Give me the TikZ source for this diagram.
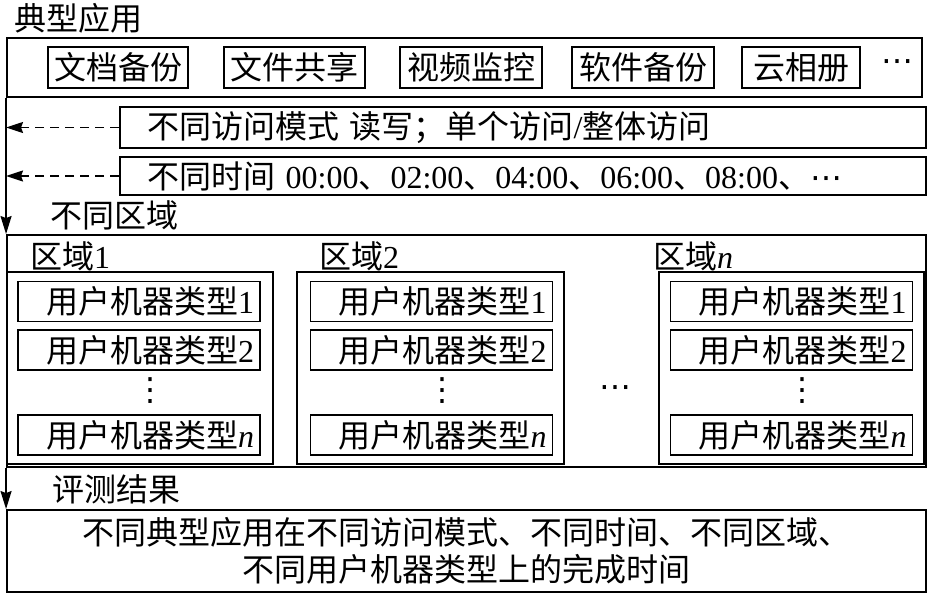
\documentclass[tikz,border=0pt]{standalone}
\usepackage{fontspec}
\setmainfont{Liberation Serif}
\newfontfamily\cjk{Noto Sans CJK SC}
\newfontfamily\dejavu{DejaVu Sans}
\usetikzlibrary{arrows.meta}
\newcommand\lat[1]{{\rmfamily #1}}
\newcommand\latn{{\rmfamily\itshape n}}
\begin{document}
\begin{tikzpicture}[x=1pt,y=-1pt,
  txt/.style={font=\cjk\fontsize{32}{37}\selectfont, inner sep=0pt},
  box/.style={draw, line width=1.9pt, inner sep=0pt, font=\cjk\fontsize{32}{37}\selectfont},
  ibox/.style={box, line width=1.5pt},
  mbox/.style={ibox, minimum height=40pt, text width=230pt, align=right, inner xsep=6pt},
  regbox/.style={ibox, minimum height=192pt},
  arr/.style={line width=1.6pt, -{Stealth[length=18pt,width=11pt,inset=2pt]}},
  darr/.style={line width=1.6pt, dash pattern=on 9pt off 6pt, -{Stealth[length=17pt,width=11pt,inset=2pt]}},
  dots/.style={font=\dejavu\fontsize{32}{34}\selectfont, inner sep=0pt}
]
\useasboundingbox (0,0) rectangle (928,594);

% typical applications
\node[txt] (title) at (78,18) {典型应用};
\node[box, minimum width=915pt, minimum height=59pt] (apps) at (464.5,67.5) {};
\node[ibox, minimum width=140pt, minimum height=41pt] (a1) at (118,67.5) {文档备份};
\node[ibox, minimum width=141pt, minimum height=41pt] (a2) at (294.5,67.5) {文件共享};
\node[ibox, minimum width=142pt, minimum height=41pt] (a3) at (471,67.5) {视频监控};
\node[ibox, minimum width=142pt, minimum height=41pt] (a4) at (643,67.5) {软件备份};
\node[ibox, minimum width=118pt, minimum height=41pt] (a5) at (801,67.5) {云相册};
\node[dots] (adots) at (897,66) {⋯};

% access mode / time
\node[box, minimum width=806pt, minimum height=41pt, text width=806pt, align=left] (mode) at (523,127.5)
  {\hspace*{27pt}不同访问模式 读写；单个访问\lat{/}整体访问};
\node[box, minimum width=806pt, minimum height=38pt, text width=806pt, align=left] (time) at (523,176)
  {\hspace*{27pt}不同时间 \lat{00:00}、\lat{02:00}、\lat{04:00}、\lat{06:00}、\lat{08:00}、{\dejavu ⋯}};
\draw[darr] (mode.west) -- (mode.west -| apps.west);
\draw[darr] (time.west) -- (time.west -| apps.west);

% regions
\node[txt] (lreg) at (114,215) {不同区域};
\node[box, minimum width=919pt, minimum height=232pt] (regions) at (466.5,351) {};
\draw[arr] (apps.south west) -- (regions.north west);

\node[txt] (l1) at (70,256) {区域\lat{1}};
\node[txt] (l2) at (359,256) {区域\lat{2}};
\node[txt] (ln) at (693,256) {区域\latn};

\node[regbox, minimum width=266pt] (r1) at (140,368) {};
\node[regbox, minimum width=267pt] (r2) at (430.5,368) {};
\node[regbox, minimum width=265pt] (rn) at (791.5,368) {};
\node[dots] (rdots) at (615,392) {⋯};

\node[mbox] (m11) at (139,301.5) {用户机器类型\lat{1}};
\node[mbox] (m12) at (139,350) {用户机器类型\lat{2}};
\node[dots] (v1) at (150,391) {⋮};
\node[mbox] (m1n) at (139,435) {用户机器类型\latn};

\node[mbox] (m21) at (431.5,301.5) {用户机器类型\lat{1}};
\node[mbox] (m22) at (431.5,350) {用户机器类型\lat{2}};
\node[dots] (v2) at (442,391) {⋮};
\node[mbox] (m2n) at (431.5,435) {用户机器类型\latn};

\node[mbox] (mn1) at (791.5,301.5) {用户机器类型\lat{1}};
\node[mbox] (mn2) at (791.5,350) {用户机器类型\lat{2}};
\node[dots] (vn) at (802,391) {⋮};
\node[mbox] (mnn) at (791.5,435) {用户机器类型\latn};

% results
\node[txt] (lres) at (116,489) {评测结果};
\node[box, minimum width=919pt, minimum height=82pt, align=center] (res) at (466.5,551)
  {不同典型应用在不同访问模式、不同时间、不同区域、\\不同用户机器类型上的完成时间};
\draw[arr] (regions.south west) -- (res.north west);
\end{tikzpicture}
\end{document}
